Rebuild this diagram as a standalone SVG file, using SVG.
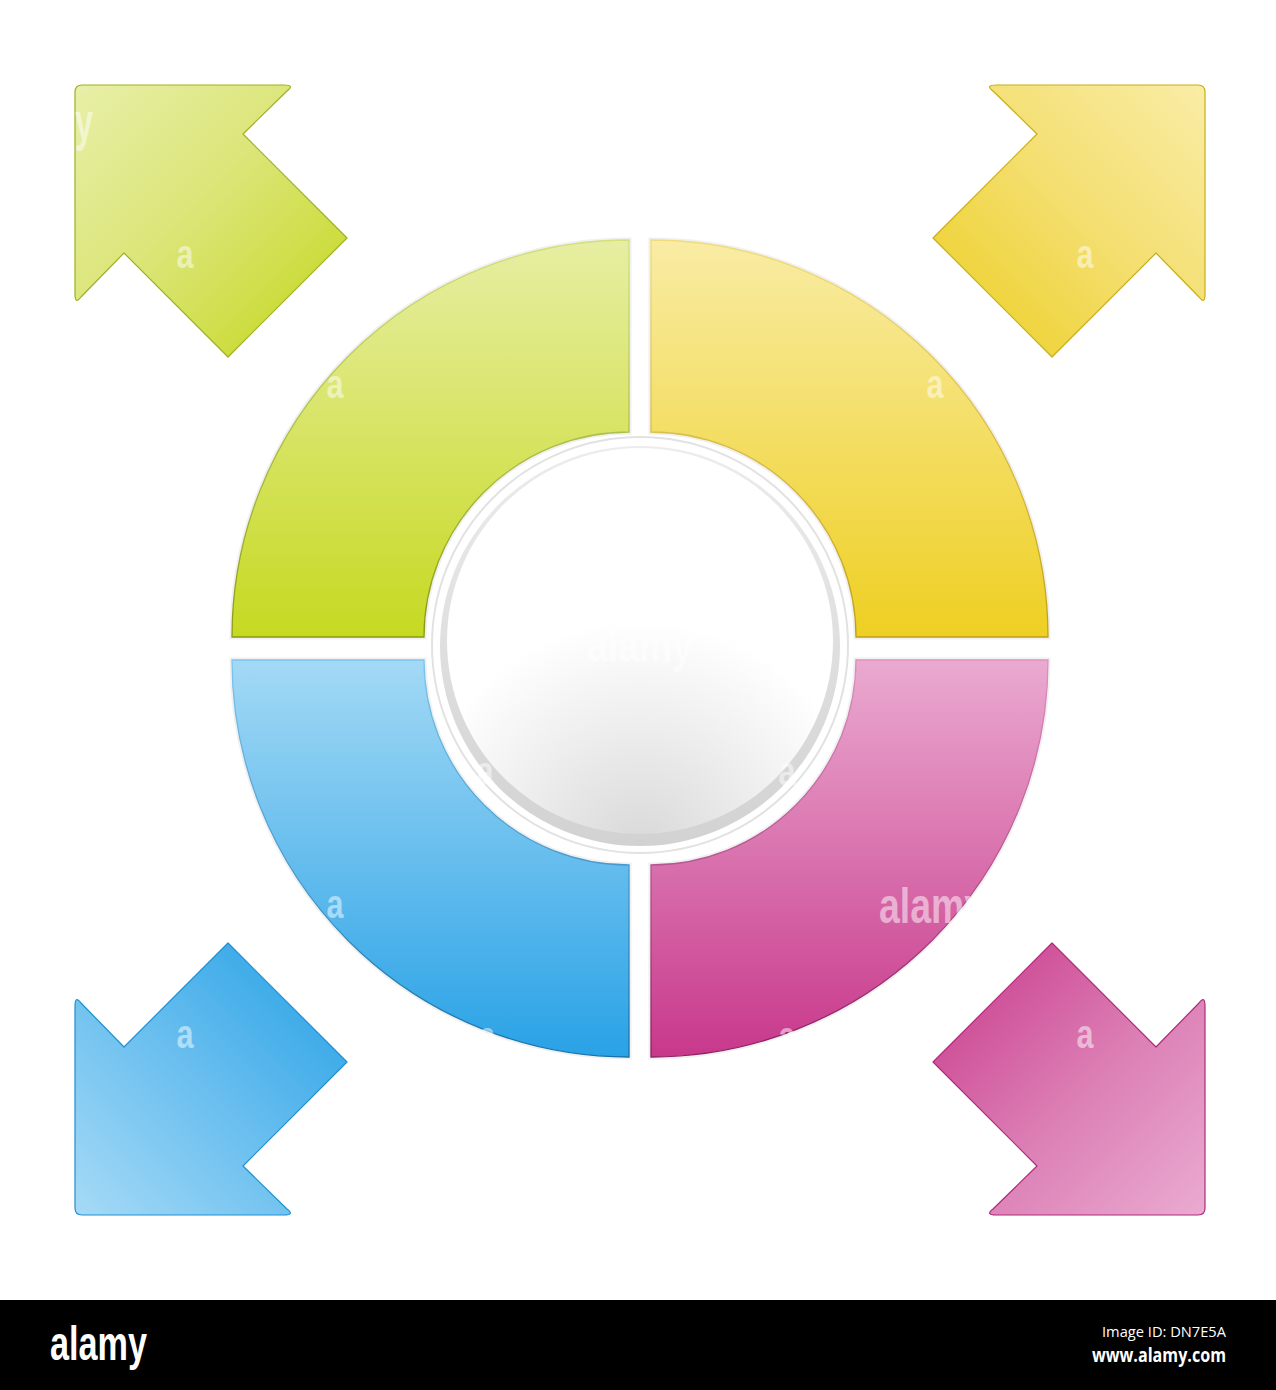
<svg xmlns="http://www.w3.org/2000/svg" width="1276" height="1390" viewBox="0 0 1276 1390">
<style>
.wm{font-family:"Liberation Sans",Arial,sans-serif;font-weight:bold;fill:#ffffff;fill-opacity:0.5}
.seg{stroke-width:1.3}
.arr{stroke-width:1.2;stroke-linejoin:round}
.glow{fill:none;stroke:#f0f0f0;stroke-width:5}
</style>
<defs>
<linearGradient id="gSeg" x1="0" y1="0" x2="0" y2="1"><stop offset="0" stop-color="#e7eea3"/><stop offset="1" stop-color="#c6d921"/></linearGradient>
<linearGradient id="ySeg" x1="0" y1="0" x2="0" y2="1"><stop offset="0" stop-color="#f9eca4"/><stop offset="1" stop-color="#eecf22"/></linearGradient>
<linearGradient id="bSeg" x1="0" y1="0" x2="0" y2="1"><stop offset="0" stop-color="#a3d9f5"/><stop offset="1" stop-color="#29a2e6"/></linearGradient>
<linearGradient id="pSeg" x1="0" y1="0" x2="0" y2="1"><stop offset="0" stop-color="#eaaad0"/><stop offset="1" stop-color="#c8388b"/></linearGradient>
<linearGradient id="gStr" x1="0" y1="0" x2="0" y2="1"><stop offset="0" stop-color="#d3e07c"/><stop offset="1" stop-color="#8a9b12"/></linearGradient>
<linearGradient id="yStr" x1="0" y1="0" x2="0" y2="1"><stop offset="0" stop-color="#f0dc7c"/><stop offset="1" stop-color="#bfa014"/></linearGradient>
<linearGradient id="bStr" x1="0" y1="0" x2="0" y2="1"><stop offset="0" stop-color="#7cc6ee"/><stop offset="1" stop-color="#1670aa"/></linearGradient>
<linearGradient id="pStr" x1="0" y1="0" x2="0" y2="1"><stop offset="0" stop-color="#df90c0"/><stop offset="1" stop-color="#8c1e5e"/></linearGradient>
<linearGradient id="gArr" x1="0" y1="0" x2="1" y2="1"><stop offset="0" stop-color="#e8efa8"/><stop offset="0.45" stop-color="#dbe577"/><stop offset="1" stop-color="#c3d71a"/></linearGradient>
<linearGradient id="yArr" x1="0" y1="0" x2="1" y2="1"><stop offset="0" stop-color="#f9eda6"/><stop offset="0.45" stop-color="#f4df72"/><stop offset="1" stop-color="#ecce1e"/></linearGradient>
<linearGradient id="bArr" x1="0" y1="0" x2="1" y2="1"><stop offset="0" stop-color="#a6daf6"/><stop offset="0.45" stop-color="#6cc0ef"/><stop offset="1" stop-color="#239fe5"/></linearGradient>
<linearGradient id="pArr" x1="0" y1="0" x2="1" y2="1"><stop offset="0" stop-color="#eaabd1"/><stop offset="0.45" stop-color="#dc7fb5"/><stop offset="1" stop-color="#c8378a"/></linearGradient>
<linearGradient id="ring" x1="0" y1="0" x2="0" y2="1"><stop offset="0" stop-color="#ececec"/><stop offset="1" stop-color="#d2d2d2"/></linearGradient>
<radialGradient id="disc" cx="640" cy="850" r="230" gradientUnits="userSpaceOnUse"><stop offset="0" stop-color="#d8d8d8"/><stop offset="0.55" stop-color="#eeeeee"/><stop offset="1" stop-color="#ffffff"/></radialGradient>
<path id="arrowShape" d="M0,7 Q0,0 7,0 L209,0 Q220,0 212,6 L168,49 L272,153 L153,272 L49,168 L6,212 Q0,220 0,209 Z"/>
</defs>
<rect width="1276" height="1390" fill="#ffffff"/>

<g id="arrow-green">
<use href="#arrowShape" transform="translate(75,85)" fill="url(#gArr)" stroke="#9fb11a" class="arr"/>
</g>
<g id="arrow-yellow">
<use href="#arrowShape" transform="translate(1205,85) scale(-1,1)" fill="url(#yArr)" stroke="#c8ad18" class="arr"/>
</g>
<g id="arrow-blue">
<use href="#arrowShape" transform="translate(75,1215) scale(1,-1)" fill="url(#bArr)" stroke="#1f8fd2" class="arr"/>
</g>
<g id="arrow-pink">
<use href="#arrowShape" transform="translate(1205,1215) scale(-1,-1)" fill="url(#pArr)" stroke="#ad2b78" class="arr"/>
</g>

<g id="segment-green">
<path class="glow" d="M232,637 A397,397 0 0 1 629,240 L629,432 A205,205 0 0 0 424,637 Z"/>
<path class="seg" d="M232,637 A397,397 0 0 1 629,240 L629,432 A205,205 0 0 0 424,637 Z" fill="url(#gSeg)" stroke="url(#gStr)"/>
</g>
<g id="segment-yellow">
<path class="glow" d="M651,240 A397,397 0 0 1 1048,637 L856,637 A205,205 0 0 0 651,432 Z"/>
<path class="seg" d="M651,240 A397,397 0 0 1 1048,637 L856,637 A205,205 0 0 0 651,432 Z" fill="url(#ySeg)" stroke="url(#yStr)"/>
</g>
<g id="segment-blue">
<path class="glow" d="M232,660 L424,660 A205,205 0 0 0 629,865 L629,1057 A397,397 0 0 1 232,660 Z"/>
<path class="seg" d="M232,660 L424,660 A205,205 0 0 0 629,865 L629,1057 A397,397 0 0 1 232,660 Z" fill="url(#bSeg)" stroke="url(#bStr)"/>
</g>
<g id="segment-pink">
<path class="glow" d="M651,865 A205,205 0 0 0 856,660 L1048,660 A397,397 0 0 1 651,1057 Z"/>
<path class="seg" d="M651,865 A205,205 0 0 0 856,660 L1048,660 A397,397 0 0 1 651,1057 Z" fill="url(#pSeg)" stroke="url(#pStr)"/>
</g>

<g id="center">
<circle cx="640" cy="645" r="208" fill="#ffffff" stroke="#e2e2e2" stroke-width="2"/>
<circle cx="640" cy="646" r="200" fill="url(#ring)"/>
<circle cx="640" cy="641" r="193" fill="url(#disc)"/>
</g>

<g id="watermark">
<text class="wm" x="185" y="268" font-size="40" text-anchor="middle" textLength="17" lengthAdjust="spacingAndGlyphs">a</text>
<text class="wm" x="1085" y="268" font-size="40" text-anchor="middle" textLength="17" lengthAdjust="spacingAndGlyphs">a</text>
<text class="wm" x="335" y="398" font-size="40" text-anchor="middle" textLength="17" lengthAdjust="spacingAndGlyphs">a</text>
<text class="wm" x="935" y="398" font-size="40" text-anchor="middle" textLength="17" lengthAdjust="spacingAndGlyphs">a</text>
<text class="wm" x="335" y="918" font-size="40" text-anchor="middle" textLength="17" lengthAdjust="spacingAndGlyphs">a</text>
<text class="wm" x="185" y="1048" font-size="40" text-anchor="middle" textLength="17" lengthAdjust="spacingAndGlyphs">a</text>
<text class="wm" x="1085" y="1048" font-size="40" text-anchor="middle" textLength="17" lengthAdjust="spacingAndGlyphs">a</text>
<text class="wm" x="487" y="1050" font-size="40" text-anchor="middle" textLength="17" lengthAdjust="spacingAndGlyphs">a</text>
<text class="wm" x="787" y="1050" font-size="40" text-anchor="middle" textLength="17" lengthAdjust="spacingAndGlyphs">a</text>
<text class="wm" x="485" y="785" font-size="40" text-anchor="middle" textLength="17" lengthAdjust="spacingAndGlyphs">a</text>
<text class="wm" x="787" y="785" font-size="40" text-anchor="middle" textLength="17" lengthAdjust="spacingAndGlyphs">a</text>
<text class="wm" x="75" y="140" font-size="54" textLength="18" lengthAdjust="spacingAndGlyphs">y</text>
<text class="wm" x="587" y="662" font-size="48" textLength="106" lengthAdjust="spacingAndGlyphs">alamy</text>
<text class="wm" x="879" y="923" font-size="50" textLength="106" lengthAdjust="spacingAndGlyphs">alamy</text>
</g>

<g id="footer">
<rect x="0" y="1300" width="1276" height="90" fill="#000000"/>
<text x="50" y="1360" font-family="Liberation Sans, Arial, sans-serif" font-weight="bold" font-size="48" fill="#ffffff" textLength="97" lengthAdjust="spacingAndGlyphs">alamy</text>
<text x="1226" y="1337" font-family="Open Sans, Liberation Sans, sans-serif" font-size="15" fill="#ffffff" text-anchor="end" textLength="124" lengthAdjust="spacingAndGlyphs">Image ID: DN7E5A</text>
<text x="1226" y="1362" font-family="Open Sans, Liberation Sans, sans-serif" font-weight="bold" font-size="19" fill="#ffffff" text-anchor="end" textLength="134" lengthAdjust="spacingAndGlyphs">www.alamy.com</text>
</g>
</svg>
